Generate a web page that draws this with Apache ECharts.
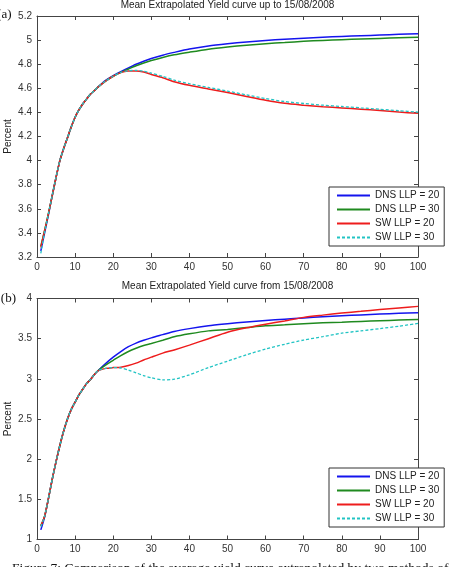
<!DOCTYPE html>
<html>
<head>
<meta charset="utf-8">
<script src="https://cdn.jsdelivr.net/npm/echarts@6/dist/echarts.min.js"></script>
<style>
html,body{margin:0;padding:0;background:#fff;}
#main{width:451px;height:567px;}
</style>
</head>
<body>
<div id="main"></div>
<script>
// Maturities (years)
const maturities = [1,2,3,4,5,6,7,8,9,10,11,12,13,14,15,16,18,20,22,24,26,28,30,33,36,40,45,50,55,60,65,70,75,80,85,90,95,100];

// Panel (a): up to 15/08/2008
const topDNS20 = [3.25,3.40,3.55,3.71,3.86,4.00,4.10,4.19,4.28,4.36,4.42,4.47,4.51,4.55,4.58,4.61,4.665,4.705,4.738,4.77,4.80,4.825,4.847,4.875,4.898,4.926,4.952,4.97,4.985,4.997,5.007,5.016,5.024,5.03,5.036,5.042,5.048,5.053];
const topDNS30 = [3.29,3.42,3.56,3.71,3.86,4.00,4.10,4.19,4.28,4.36,4.42,4.47,4.51,4.55,4.58,4.61,4.66,4.70,4.732,4.76,4.787,4.81,4.83,4.856,4.878,4.90,4.925,4.943,4.958,4.97,4.98,4.99,4.997,5.003,5.009,5.014,5.019,5.023];
const topSW20  = [3.28,3.42,3.56,3.71,3.86,4.00,4.10,4.19,4.28,4.36,4.42,4.47,4.51,4.55,4.58,4.61,4.66,4.70,4.73,4.743,4.744,4.735,4.715,4.688,4.655,4.625,4.595,4.565,4.532,4.50,4.475,4.46,4.447,4.437,4.427,4.415,4.403,4.392];
const topSW30  = [3.23,3.41,3.56,3.71,3.86,4.00,4.10,4.19,4.28,4.36,4.42,4.47,4.51,4.55,4.58,4.61,4.66,4.70,4.732,4.746,4.748,4.742,4.725,4.70,4.668,4.638,4.607,4.577,4.545,4.515,4.49,4.474,4.46,4.449,4.438,4.426,4.414,4.402];

// Panel (b): from 15/08/2008
const botDNS20 = [1.12,1.28,1.51,1.75,1.97,2.17,2.35,2.50,2.62,2.71,2.80,2.87,2.94,2.99,3.05,3.10,3.19,3.27,3.34,3.40,3.445,3.48,3.51,3.55,3.59,3.625,3.66,3.685,3.708,3.727,3.743,3.758,3.773,3.785,3.796,3.806,3.815,3.823];
const botDNS30 = [1.17,1.29,1.51,1.75,1.97,2.17,2.35,2.50,2.62,2.71,2.80,2.87,2.94,2.99,3.05,3.10,3.17,3.23,3.29,3.34,3.38,3.415,3.44,3.48,3.523,3.56,3.597,3.615,3.638,3.66,3.672,3.687,3.697,3.705,3.714,3.723,3.732,3.74];
const botSW20  = [1.17,1.29,1.51,1.75,1.97,2.17,2.35,2.50,2.62,2.71,2.80,2.87,2.94,2.99,3.05,3.10,3.13,3.14,3.145,3.165,3.195,3.235,3.27,3.32,3.36,3.42,3.50,3.58,3.635,3.68,3.72,3.765,3.793,3.818,3.84,3.862,3.882,3.902];
const botSW30  = [1.16,1.29,1.51,1.75,1.97,2.17,2.35,2.50,2.62,2.71,2.80,2.87,2.94,2.99,3.05,3.10,3.13,3.14,3.135,3.11,3.075,3.04,3.013,2.987,2.995,3.05,3.14,3.22,3.30,3.37,3.43,3.483,3.525,3.568,3.597,3.625,3.655,3.69];

const seriesNames = ['DNS LLP = 20','DNS LLP = 30','SW LLP = 20','SW LLP = 30'];
const titles = ['Mean Extrapolated Yield curve up to 15/08/2008','Mean Extrapolated Yield curve from 15/08/2008'];
const xTicks = {min:0, max:100, interval:10};
const topY = {min:3.2, max:5.2, interval:0.2};
const botY = {min:1, max:4, interval:0.5};

const colors = ['#1414ee','#1f8a1f','#ee1c1c','#22c4c4'];
const FONT = 'Liberation Sans, Arial, Helvetica, sans-serif';
const SERIF = 'Liberation Serif, Times New Roman, serif';

function pairs(xs, ys){ return xs.map((x,i)=>[x, ys[i]]); }

const panels = [
  {top:16, height:241, y:topY, data:[topDNS20, topDNS30, topSW20, topSW30]},
  {top:298.5, height:241, y:botY, data:[botDNS20, botDNS30, botSW20, botSW30]}
];

const grid = [], xAxis = [], yAxis = [], series = [];
const axisLineStyle = {color:'#444', width:1};
panels.forEach((p, gi) => {
  grid.push({left:37, right:33, top:p.top, height:p.height, containLabel:false});
  xAxis.push({type:'value', gridIndex:gi, position:'bottom', min:xTicks.min, max:xTicks.max, interval:xTicks.interval,
    axisLine:{show:true, onZero:false, lineStyle:axisLineStyle}, axisTick:{show:true, inside:true, length:4, lineStyle:axisLineStyle},
    axisLabel:{show:true, margin:5, color:'#333', fontSize:10, fontFamily:FONT}, splitLine:{show:false}});
  xAxis.push({type:'value', gridIndex:gi, position:'top', min:xTicks.min, max:xTicks.max, interval:xTicks.interval,
    axisLine:{show:true, onZero:false, lineStyle:axisLineStyle}, axisTick:{show:true, inside:true, length:4, lineStyle:axisLineStyle},
    axisLabel:{show:false}, splitLine:{show:false}});
  yAxis.push({type:'value', gridIndex:gi, position:'left', min:p.y.min, max:p.y.max, interval:p.y.interval,
    axisLine:{show:true, onZero:false, lineStyle:axisLineStyle}, axisTick:{show:true, inside:true, length:4, lineStyle:axisLineStyle},
    axisLabel:{show:true, margin:5, color:'#333', fontSize:10, fontFamily:FONT}, splitLine:{show:false}});
  yAxis.push({type:'value', gridIndex:gi, position:'right', min:p.y.min, max:p.y.max, interval:p.y.interval,
    axisLine:{show:true, onZero:false, lineStyle:axisLineStyle}, axisTick:{show:true, inside:true, length:4, lineStyle:axisLineStyle},
    axisLabel:{show:false}, splitLine:{show:false}});
  p.data.forEach((vals, si) => {
    series.push({
      name: seriesNames[si], type:'line', xAxisIndex: gi*2, yAxisIndex: gi*2,
      data: pairs(maturities, vals), symbol:'none', smooth:0.25, z: 2+si,
      lineStyle:{color:colors[si], width: si===3 ? 1.3 : 1.5, type: si===3 ? [3,2] : 'solid'},
      itemStyle:{color:colors[si]}
    });
  });
});

function legendAt(top){
  return {left:329, top:top, orient:'vertical', padding:[3.5,5,3.5,7], itemGap:4, itemWidth:33, itemHeight:11,
    backgroundColor:'#fff', borderColor:'#333', borderWidth:1, borderRadius:0, selectedMode:false,
    itemStyle:{color:'rgba(0,0,0,0)', borderColor:'rgba(0,0,0,0)', borderWidth:0, opacity:0},
    textStyle:{fontSize:10, color:'#222', fontFamily:FONT}, data:seriesNames};
}

const option = {
  backgroundColor:'#fff',
  animation:false,
  grid, xAxis, yAxis, series,
  legend:[legendAt(187), legendAt(468)],
  graphic:[
    {type:'text', x:227.5, y:5, style:{text:titles[0], fill:'#222', font:'10px '+FONT, textAlign:'center', textVerticalAlign:'middle'}},
    {type:'text', x:227.5, y:286, style:{text:titles[1], fill:'#222', font:'10px '+FONT, textAlign:'center', textVerticalAlign:'middle'}},
    {type:'text', x:8, y:136.5, rotation:Math.PI/2, style:{text:'Percent', fill:'#222', font:'10px '+FONT, textAlign:'center', textVerticalAlign:'middle'}},
    {type:'text', x:8, y:419, rotation:Math.PI/2, style:{text:'Percent', fill:'#222', font:'10px '+FONT, textAlign:'center', textVerticalAlign:'middle'}},
    {type:'text', x:11.5, y:15, style:{text:'(a)', fill:'#111', font:'13px '+SERIF, textAlign:'right', textVerticalAlign:'middle'}},
    {type:'text', x:16, y:299, style:{text:'(b)', fill:'#111', font:'13px '+SERIF, textAlign:'right', textVerticalAlign:'middle'}},
    {type:'text', x:12, y:561.5, style:{text:'Figure 7: Comparison of the average yield curve extrapolated by two methods of', fill:'#111', font:'13.5px '+SERIF, textAlign:'left', textVerticalAlign:'top'}}
  ]
};

const chart = echarts.init(document.getElementById('main'), null, {renderer:'canvas'});
chart.setOption(option);
</script>
</body>
</html>
